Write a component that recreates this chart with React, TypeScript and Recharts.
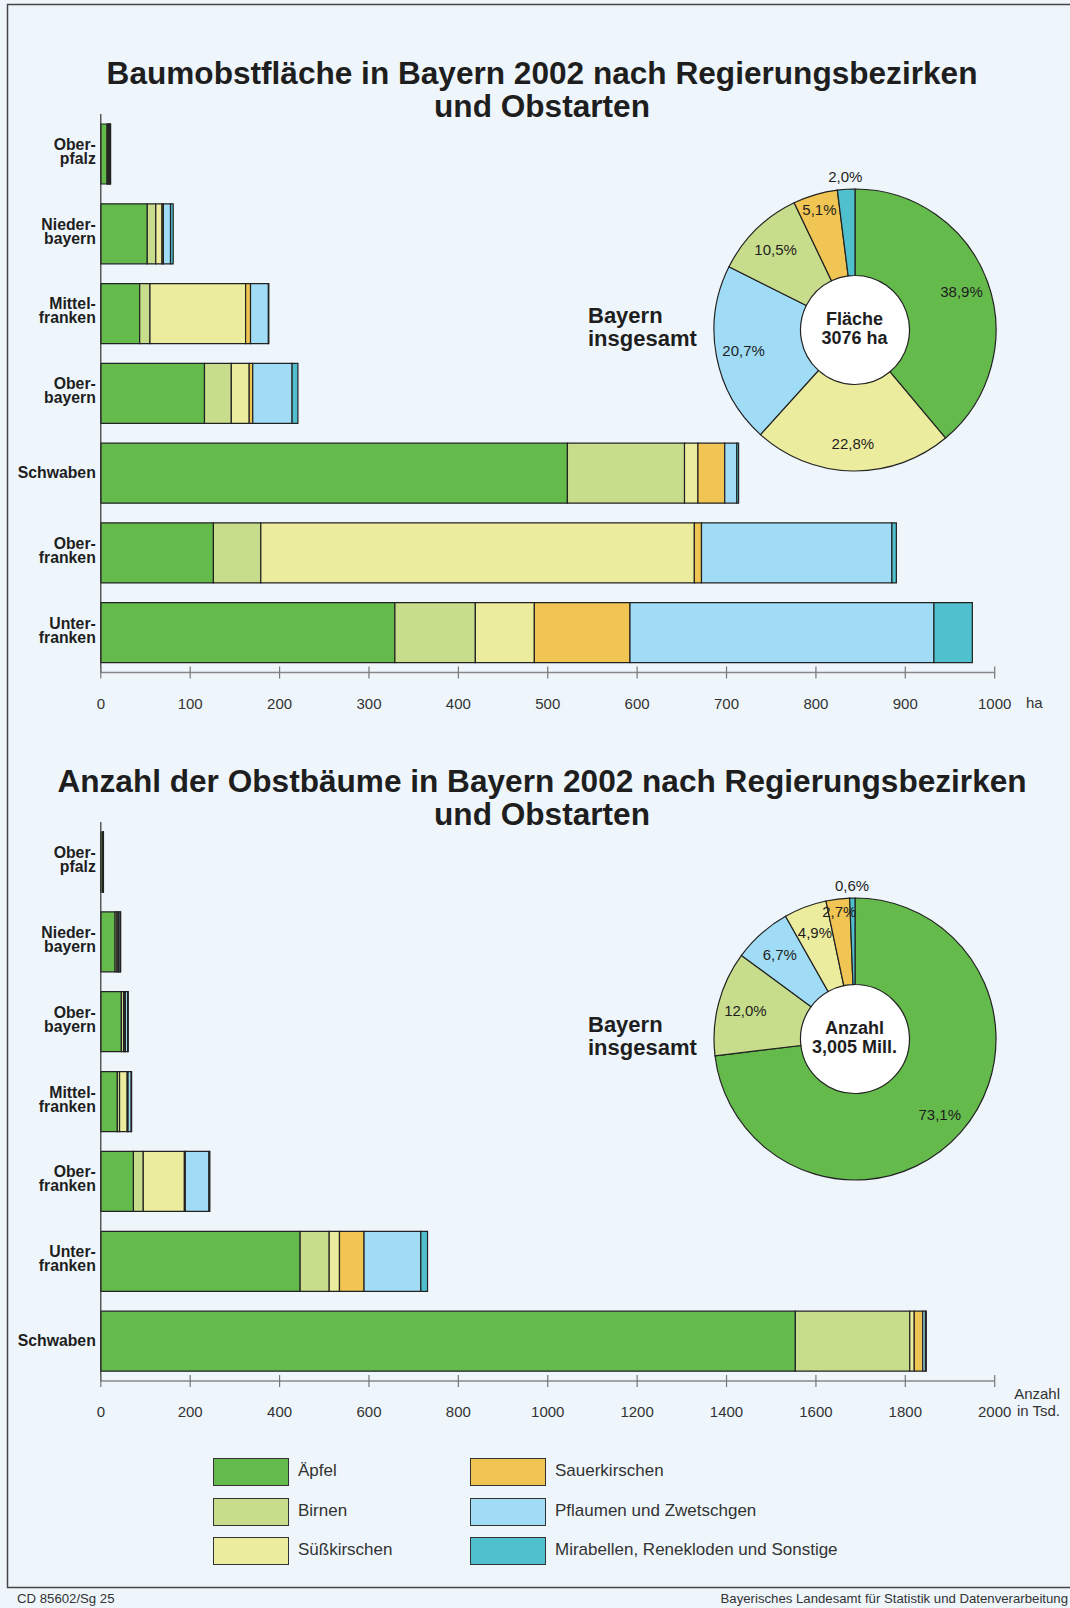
import { BarChart, Bar, XAxis, YAxis, PieChart, Pie, Cell } from "recharts"

const FONT = "'Liberation Sans', Arial, Helvetica, sans-serif"
const BG = "#eef6fc"
const INK = "#1e1e1e"
const EDGE = "#222"

const fruitKeys = ["aepfel", "birnen", "suess", "sauer", "pflaumen", "mirab"]
const fruitNames = ["Äpfel", "Birnen", "Süßkirschen", "Sauerkirschen", "Pflaumen und Zwetschgen", "Mirabellen, Renekloden und Sonstige"]
const fruitColors = ["#65ba4c", "#c8dd8b", "#ecec9e", "#f0c553", "#a0dcf6", "#50c0cf"]

const regionLabels: Record<string, string[]> = {
  Oberpfalz: ["Ober-", "pfalz"],
  Niederbayern: ["Nieder-", "bayern"],
  Mittelfranken: ["Mittel-", "franken"],
  Oberbayern: ["Ober-", "bayern"],
  Schwaben: ["Schwaben"],
  Oberfranken: ["Ober-", "franken"],
  Unterfranken: ["Unter-", "franken"],
}

// Baumobstfläche in ha
const flaecheRegions = ["Oberpfalz", "Niederbayern", "Mittelfranken", "Oberbayern", "Schwaben", "Oberfranken", "Unterfranken"]
const flaecheAepfel = [7, 52, 43.5, 116, 522, 126, 329]
const flaecheBirnen = [1, 9.5, 11.5, 30, 131, 53, 90]
const flaecheSuess = [1, 7, 107, 20, 15, 485, 66]
const flaecheSauer = [0.5, 1.5, 5.5, 4, 30, 8, 107]
const flaechePflaumen = [1, 8, 20, 44, 13.5, 213, 340]
const flaecheMirab = [0.5, 3, 0.5, 6.5, 2, 5, 43]
const flaecheTicks = [0, 100, 200, 300, 400, 500, 600, 700, 800, 900, 1000]

// Anzahl der Bäume in Tsd.
const anzahlRegions = ["Oberpfalz", "Niederbayern", "Oberbayern", "Mittelfranken", "Oberfranken", "Unterfranken", "Schwaben"]
const anzahlAepfel = [4, 32, 46, 37, 73, 446, 1554]
const anzahlBirnen = [0.5, 4, 5, 5, 22, 65, 256]
const anzahlSuess = [0.5, 3, 3, 17, 92, 23, 10]
const anzahlSauer = [0.3, 1, 1, 2, 2, 55, 19]
const anzahlPflaumen = [0.5, 3.5, 5, 7, 53, 127, 6]
const anzahlMirab = [0.2, 1, 1.5, 1, 2, 15, 2]
const anzahlTicks = [0, 200, 400, 600, 800, 1000, 1200, 1400, 1600, 1800, 2000]

// Anteile Bayern insgesamt (%), im Uhrzeigersinn ab 12 Uhr
const flaecheShareKeys = ["aepfel", "suess", "pflaumen", "birnen", "sauer", "mirab"]
const flaecheShares = [38.9, 22.8, 20.7, 10.5, 5.1, 2.0]
const anzahlShareKeys = ["aepfel", "birnen", "pflaumen", "suess", "sauer", "mirab"]
const anzahlShares = [73.1, 12.0, 6.7, 4.9, 2.7, 0.6]

function buildRows(regions: string[], series: number[][]) {
  return regions.map((region, i) => {
    const row: Record<string, any> = { region }
    fruitKeys.forEach((k, j) => { row[k] = series[j][i] })
    return row
  })
}

const flaecheData = buildRows(flaecheRegions, [flaecheAepfel, flaecheBirnen, flaecheSuess, flaecheSauer, flaechePflaumen, flaecheMirab])
const anzahlData = buildRows(anzahlRegions, [anzahlAepfel, anzahlBirnen, anzahlSuess, anzahlSauer, anzahlPflaumen, anzahlMirab])

const colorOf = (key: string) => fruitColors[fruitKeys.indexOf(key)]
const fmt = (v: number) => v.toFixed(1).replace(".", ",") + "%"

function RegionTick({ x, y, payload }: any) {
  const lines = regionLabels[payload.value] ?? [payload.value]
  const start = lines.length === 1 ? 5 : -4
  return (
    <text textAnchor="end" fontFamily={FONT} fontSize={15.8} fontWeight="bold" fill={INK}>
      {lines.map((l, i) => (
        <tspan key={i} x={x} y={y + start + i * 14}>{l}</tspan>
      ))}
    </text>
  )
}

function ValueTick({ x, y, payload }: any) {
  return (
    <g>
      <line x1={x} x2={x} y1={y - 6} y2={y + 6} stroke="#777" strokeWidth={1.2} />
      <text x={x} y={y + 36} textAnchor="middle" fontFamily={FONT} fontSize={15} fill="#333">
        {payload.value}
      </text>
    </g>
  )
}

const RAD = Math.PI / 180

function pieLabel({ cx, cy, midAngle, innerRadius, outerRadius, value }: any) {
  let r = innerRadius + (outerRadius - innerRadius) * 0.68
  if (value < 2.5) r = outerRadius + 13
  else if (value < 3.5) r = outerRadius - 13
  else if (value > 5 && value < 6) r = outerRadius - 15
  const x = cx + r * Math.cos(-midAngle * RAD)
  const y = cy + r * Math.sin(-midAngle * RAD)
  return (
    <text x={x} y={y} textAnchor="middle" dominantBaseline="central" fontFamily={FONT} fontSize={15} fill={INK}>
      {fmt(value)}
    </text>
  )
}

function StackedBars({ data, max, ticks, top, height, plotTop, plotBottom }: any) {
  return (
    <div style={{ position: "absolute", left: 0, top, width: 1070, height }}>
      <BarChart
        width={1070}
        height={height}
        data={data}
        layout="vertical"
        barSize={60}
        margin={{ top: plotTop - top, right: 75.3, bottom: top + height - plotBottom - 30, left: 8.8 }}
      >
        <XAxis
          type="number"
          domain={[0, max]}
          ticks={ticks}
          height={30}
          tickSize={0}
          tickMargin={0}
          tickLine={false}
          axisLine={{ stroke: "#888", strokeWidth: 1.5 }}
          tick={<ValueTick />}
          interval={0}
        />
        <YAxis
          type="category"
          dataKey="region"
          width={92}
          tickSize={0}
          tickMargin={5}
          tickLine={false}
          axisLine={{ stroke: "#333", strokeWidth: 1.2 }}
          tick={<RegionTick />}
          interval={0}
        />
        {fruitKeys.map((k, i) => (
          <Bar
            key={k}
            dataKey={k}
            stackId="s"
            fill={fruitColors[i]}
            stroke={EDGE}
            strokeWidth={1.2}
            isAnimationActive={false}
          />
        ))}
      </BarChart>
    </div>
  )
}

function Donut({ keys, shares, cx, cy, line1, line2 }: any) {
  const data = keys.map((k: string, i: number) => ({ name: k, value: shares[i] }))
  const size = 340
  return (
    <>
      <div
        style={{
          position: "absolute",
          left: cx - 54.5,
          top: cy - 54.5,
          width: 109,
          height: 109,
          borderRadius: "50%",
          background: "#fff",
        }}
      />
      <div style={{ position: "absolute", left: cx - size / 2, top: cy - size / 2, width: size, height: size }}>
        <PieChart width={size} height={size} margin={{ top: 0, right: 0, bottom: 0, left: 0 }}>
          <Pie
            data={data}
            dataKey="value"
            cx={size / 2}
            cy={size / 2}
            innerRadius={54.5}
            outerRadius={141}
            startAngle={90}
            endAngle={-270}
            stroke={EDGE}
            strokeWidth={1.2}
            label={pieLabel}
            labelLine={false}
            isAnimationActive={false}
          >
            {data.map((d: any) => (
              <Cell key={d.name} fill={colorOf(d.name)} />
            ))}
          </Pie>
        </PieChart>
      </div>
      <div style={{ position: "absolute", left: cx - 80, width: 160, top: cy - 20, textAlign: "center", fontFamily: FONT, fontWeight: "bold", fontSize: 18, lineHeight: "19px", color: INK }}>
        {line1}
        <br />
        {line2}
      </div>
      <div style={{ position: "absolute", left: 588, top: cy - 26, fontFamily: FONT, fontWeight: "bold", fontSize: 22, lineHeight: "23px", color: INK }}>
        Bayern
        <br />
        insgesamt
      </div>
    </>
  )
}

function Title({ top, children }: any) {
  return (
    <div style={{ position: "absolute", left: 0, width: 1084, top, textAlign: "center", fontFamily: FONT, fontWeight: "bold", fontSize: 31.6, lineHeight: "33px", color: INK }}>
      {children}
    </div>
  )
}

export default function App() {
  return (
    <div style={{ position: "absolute", left: 0, top: 0, width: 1070, height: 1608, background: BG, overflow: "hidden" }}>
      <svg width={1070} height={1608} style={{ position: "absolute", left: 0, top: 0 }}>
        <path d="M1070,4.5 H7.5 V1587.5 H1070" fill="none" stroke="#444" strokeWidth={1.5} />
      </svg>

      <Title top={57}>
        Baumobstfläche in Bayern 2002 nach Regierungsbezirken
        <br />
        und Obstarten
      </Title>
      <StackedBars data={flaecheData} max={1000} ticks={flaecheTicks} top={0} height={740} plotTop={114} plotBottom={672.5} />
      <div style={{ position: "absolute", left: 1026, top: 694, fontFamily: FONT, fontSize: 15, color: "#333" }}>ha</div>
      <Donut keys={flaecheShareKeys} shares={flaecheShares} cx={854.5} cy={330} line1="Fläche" line2="3076 ha" />

      <Title top={765}>
        Anzahl der Obstbäume in Bayern 2002 nach Regierungsbezirken
        <br />
        und Obstarten
      </Title>
      <StackedBars data={anzahlData} max={2000} ticks={anzahlTicks} top={760} height={700} plotTop={822} plotBottom={1381} />
      <div style={{ position: "absolute", right: 1070 - 1060, top: 1385, textAlign: "right", fontFamily: FONT, fontSize: 15, lineHeight: "17px", color: "#333" }}>
        Anzahl
        <br />
        in Tsd.
      </div>
      <Donut keys={anzahlShareKeys} shares={anzahlShares} cx={854.5} cy={1039} line1="Anzahl" line2="3,005 Mill." />

      {fruitNames.map((name, i) => {
        const col = Math.floor(i / 3)
        const row = i % 3
        const left = col === 0 ? 213 : 470
        const cy = 1472 + row * 39.5
        return (
          <div key={name}>
            <div
              style={{
                position: "absolute",
                left,
                top: cy - 14,
                width: 74,
                height: 26,
                background: fruitColors[i],
                border: "1.5px solid #333",
              }}
            />
            <div style={{ position: "absolute", left: left + 85, top: cy - 11, fontFamily: FONT, fontSize: 17, lineHeight: "20px", color: "#333", whiteSpace: "nowrap" }}>
              {name}
            </div>
          </div>
        )
      })}

      <div style={{ position: "absolute", left: 17, top: 1591, fontFamily: FONT, fontSize: 13.2, color: "#333" }}>CD 85602/Sg 25</div>
      <div style={{ position: "absolute", right: 2, top: 1591, fontFamily: FONT, fontSize: 13.2, color: "#333", whiteSpace: "nowrap" }}>
        Bayerisches Landesamt für Statistik und Datenverarbeitung
      </div>
    </div>
  )
}
